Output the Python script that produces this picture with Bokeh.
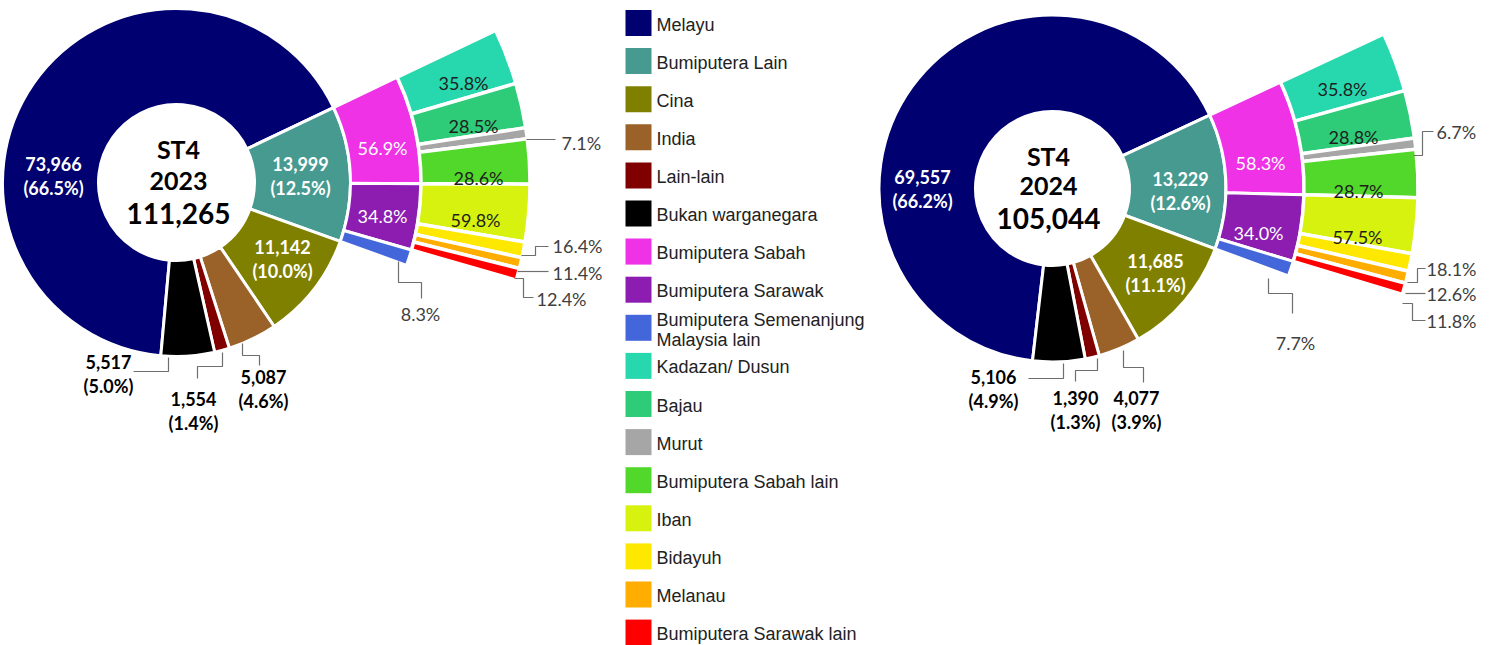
from bokeh.plotting import figure
from bokeh.models import Range1d, ColumnDataSource
from bokeh.embed import file_html
from bokeh.resources import INLINE
from bokeh.core.properties import value
import math

# ---------------- data ----------------
main_categories = ["Melayu", "Bumiputera Lain", "Cina", "India", "Lain-lain", "Bukan warganegara"]
values_2023 = [73966, 13999, 11142, 5087, 1554, 5517]
values_2024 = [69557, 13229, 11685, 4077, 1390, 5106]
pct_2023 = [66.5, 12.5, 10.0, 4.6, 1.4, 5.0]
pct_2024 = [66.2, 12.6, 11.1, 3.9, 1.3, 4.9]
total_2023 = 111265
total_2024 = 105044

bumi_lain_categories = ["Bumiputera Sabah", "Bumiputera Sarawak", "Bumiputera Semenanjung Malaysia lain"]
bumi_lain_2023 = [56.9, 34.8, 8.3]
bumi_lain_2024 = [58.3, 34.0, 7.7]

sabah_categories = ["Kadazan/ Dusun", "Bajau", "Murut", "Bumiputera Sabah lain"]
sabah_2023 = [35.8, 28.5, 7.1, 28.6]
sabah_2024 = [35.8, 28.8, 6.7, 28.7]

sarawak_categories = ["Iban", "Bidayuh", "Melanau", "Bumiputera Sarawak lain"]
sarawak_2023 = [59.8, 16.4, 11.4, 12.4]
sarawak_2024 = [57.5, 18.1, 12.6, 11.8]

colors = {
    "Melayu": "#000070",
    "Bumiputera Lain": "#479A8F",
    "Cina": "#808000",
    "India": "#9A6128",
    "Lain-lain": "#800000",
    "Bukan warganegara": "#000000",
    "Bumiputera Sabah": "#F032E6",
    "Bumiputera Sarawak": "#8C1DB0",
    "Bumiputera Semenanjung Malaysia lain": "#4366DA",
    "Kadazan/ Dusun": "#27D8AF",
    "Bajau": "#2ECB78",
    "Murut": "#A6A6A6",
    "Bumiputera Sabah lain": "#52D82A",
    "Iban": "#D6F20E",
    "Bidayuh": "#FFE800",
    "Melanau": "#FFAD00",
    "Bumiputera Sarawak lain": "#FF0000",
}

# ---------------- layout (styles / positions of annotations) ----------------
LABEL_FONT = "Lato"
LEGEND_FONT = "Liberation Sans"
W, H = 1496, 645

charts = [
    dict(year="2023", cx=176, cy=182, radii=(78, 174, 244.5, 353.5), bumi_top=25.5,
         vals=values_2023, pcts=pct_2023, total=total_2023,
         l2=bumi_lain_2023, sabah=sabah_2023, sarawak=sarawak_2023,
         center=[(2, -34), (2, -2), (2, 31)],
         in1={"Melayu": (-123, -7), "Bumiputera Lain": (124, -7), "Cina": (106, 76)},
         out1={"Bukan warganegara": ((-68, 191), [(-8, 175), (-8, 189), (-43, 189)]),
               "Lain-lain": ((17, 228), [(46, 170), (46, 184), (21, 184), (21, 196)]),
               "India": ((87, 206), [(66, 161), (66, 173), (83, 173), (83, 183)])},
         in2={"Bumiputera Sabah": (206, -35), "Bumiputera Sarawak": (206, 33)},
         out2={"Bumiputera Semenanjung Malaysia lain": ((244, 131), [(222, 79), (222, 100), (245, 100), (245, 116)])},
         in3={"Kadazan/ Dusun": (287, -100), "Bajau": (297, -57), "Bumiputera Sabah lain": (302, -5), "Iban": (299, 37)},
         out3={"Murut": ((385, -40), [(350, -43), (379, -43)]),
               "Bidayuh": ((376, 63), [(345, 73), (359, 73), (359, 64), (372, 64)]),
               "Melanau": ((376, 90), [(341, 89), (372, 89)]),
               "Bumiputera Sarawak lain": ((360, 116), [(338, 96), (347, 96), (347, 115), (357, 115)])}),
    dict(year="2024", cx=1052, cy=188, radii=(77, 173.5, 251.5, 365.5), bumi_top=25.0,
         vals=values_2024, pcts=pct_2024, total=total_2024,
         l2=bumi_lain_2024, sabah=sabah_2024, sarawak=sarawak_2024,
         center=[(-4, -33), (-4, -3), (-4, 30)],
         in1={"Melayu": (-130, 0), "Bumiputera Lain": (128, 2), "Cina": (103, 84)},
         out1={"Bukan warganegara": ((-59, 200), [(11, 175), (11, 190), (-24, 190)]),
               "Lain-lain": ((23, 221), [(45, 170), (45, 182), (23, 182), (23, 193)]),
               "India": ((84, 221), [(71, 162), (71, 179), (91, 179), (91, 194)])},
         in2={"Bumiputera Sabah": (208, -26), "Bumiputera Sarawak": (206, 44)},
         out2={"Bumiputera Semenanjung Malaysia lain": ((243, 154), [(216, 90), (216, 105), (240, 105), (240, 125)])},
         in3={"Kadazan/ Dusun": (290, -100), "Bajau": (301, -52), "Bumiputera Sabah lain": (306, 2), "Iban": (305, 48)},
         out3={"Murut": ((384, -57), [(361, -33), (370, -33), (370, -57), (381, -57)]),
               "Bidayuh": ((374, 80), [(355, 94), (365, 94), (365, 80), (373, 80)]),
               "Melanau": ((374, 105), [(353, 105), (373, 105)]),
               "Bumiputera Sarawak lain": ((374, 132), [(350, 115), (360, 115), (360, 132), (373, 132)])}),
]

p = figure(width=W, height=H, x_range=Range1d(0, W), y_range=Range1d(-H, 0),
           output_backend="svg", toolbar_location=None, min_border=0,
           x_axis_type=None, y_axis_type=None, outline_line_color=None,
           background_fill_color="white", border_fill_color="white")
p.xgrid.visible = False
p.ygrid.visible = False


def split(lo, hi, shares):
    """Split the angle range [lo, hi] clockwise from hi in proportion to shares."""
    tot = float(sum(shares))
    out = []
    a = hi
    for s in shares:
        d = (hi - lo) * s / tot
        out.append((a - d, a))
        a -= d
    return out


def add_ring(cx, cy, rin, rout, names, segs, lw=3):
    src = ColumnDataSource(dict(
        x=[cx] * len(names), y=[-cy] * len(names),
        sa=[math.radians(s[0]) for s in segs], ea=[math.radians(s[1]) for s in segs],
        color=[colors[n] for n in names]))
    p.annular_wedge(x="x", y="y", inner_radius=rin, outer_radius=rout,
                    start_angle="sa", end_angle="ea", fill_color="color",
                    line_color="white", line_width=lw, source=src)


def add_text(xs, ys, texts, color, size, bold=False, align="center", font=LABEL_FONT):
    p.text(x=xs, y=ys, text=texts, text_color=color, text_font=value(font),
           text_font_size=size, text_font_style="bold" if bold else "normal",
           text_align=align, text_baseline="middle")


leader_xs, leader_ys = [], []

for c in charts:
    cx, cy = c["cx"], c["cy"]
    r0, r1, r2, r3 = c["radii"]
    vals = c["vals"]
    tot = float(sum(vals))
    start = c["bumi_top"] + 360.0 * vals[0] / tot
    seg1 = split(start - 360.0, start, vals)
    add_ring(cx, cy, r0, r1, main_categories, seg1)

    bl = seg1[1]
    seg2 = split(bl[0], bl[1], c["l2"])
    add_ring(cx, cy, r1, r2, bumi_lain_categories, seg2)

    seg3a = split(seg2[0][0], seg2[0][1], c["sabah"])
    seg3b = split(seg2[1][0], seg2[1][1], c["sarawak"])
    add_ring(cx, cy, r2, r3, sabah_categories + sarawak_categories, seg3a + seg3b, lw=3.5)

    # centre text
    (a1, b1), (a2, b2), (a3, b3) = c["center"]
    add_text([cx + a1, cx + a2], [-(cy + b1), -(cy + b2)], ["ST4", c["year"]], "#000000", "25px", bold=True)
    add_text([cx + a3], [-(cy + b3)], [f"{c['total']:,}"], "#000000", "28px", bold=True)

    # level 1 labels
    xs, ys, ts = [], [], []
    for name, (dx, dy) in c["in1"].items():
        i = main_categories.index(name)
        xs += [cx + dx, cx + dx]
        ys += [-(cy + dy - 12), -(cy + dy + 12)]
        ts += [f"{vals[i]:,}", f"({c['pcts'][i]:.1f}%)"]
    add_text(xs, ys, ts, "#FFFFFF", "18px", bold=True)

    xs, ys, ts = [], [], []
    for name, ((dx, dy), path) in c["out1"].items():
        i = main_categories.index(name)
        xs += [cx + dx, cx + dx]
        ys += [-(cy + dy - 12), -(cy + dy + 12)]
        ts += [f"{vals[i]:,}", f"({c['pcts'][i]:.1f}%)"]
        leader_xs.append([cx + px for px, py in path])
        leader_ys.append([-(cy + py) for px, py in path])
    add_text(xs, ys, ts, "#000000", "18px", bold=True)

    # level 2 labels
    xs, ys, ts = [], [], []
    for name, (dx, dy) in c["in2"].items():
        i = bumi_lain_categories.index(name)
        xs.append(cx + dx); ys.append(-(cy + dy)); ts.append(f"{c['l2'][i]:.1f}%")
    add_text(xs, ys, ts, "#FFFFFF", "18px")
    xs, ys, ts = [], [], []
    for name, ((dx, dy), path) in c["out2"].items():
        i = bumi_lain_categories.index(name)
        xs.append(cx + dx); ys.append(-(cy + dy)); ts.append(f"{c['l2'][i]:.1f}%")
        leader_xs.append([cx + px for px, py in path])
        leader_ys.append([-(cy + py) for px, py in path])
    add_text(xs, ys, ts, "#404040", "18px")

    # level 3 labels
    l3_names = sabah_categories + sarawak_categories
    l3_vals = c["sabah"] + c["sarawak"]
    xs, ys, ts = [], [], []
    for name, (dx, dy) in c["in3"].items():
        i = l3_names.index(name)
        xs.append(cx + dx); ys.append(-(cy + dy)); ts.append(f"{l3_vals[i]:.1f}%")
    add_text(xs, ys, ts, "#1E1E1E", "18px")
    xs, ys, ts = [], [], []
    for name, ((dx, dy), path) in c["out3"].items():
        i = l3_names.index(name)
        xs.append(cx + dx); ys.append(-(cy + dy)); ts.append(f"{l3_vals[i]:.1f}%")
        leader_xs.append([cx + px for px, py in path])
        leader_ys.append([-(cy + py) for px, py in path])
    add_text(xs, ys, ts, "#404040", "18px", align="left")

p.multi_line(xs=leader_xs, ys=leader_ys, line_color="#6E6E6E", line_width=1.2)

# ---------------- legend ----------------
legend_names = main_categories + bumi_lain_categories + sabah_categories + sarawak_categories
leg_x, leg_y0, leg_step = 638, 22.5, 38.1
sq_y = [-(leg_y0 + i * leg_step) for i in range(len(legend_names))]
p.rect(x=[leg_x] * len(legend_names), y=sq_y, width=26, height=26,
       fill_color=[colors[n] for n in legend_names], line_color=None)
txt, tx, ty = [], [], []
for i, n in enumerate(legend_names):
    yc = leg_y0 + i * leg_step
    if n == "Bumiputera Semenanjung Malaysia lain":
        txt += ["Bumiputera Semenanjung", "Malaysia lain"]
        tx += [leg_x + 18, leg_x + 18]
        ty += [-(yc - 8), -(yc + 12)]
    else:
        txt.append(n); tx.append(leg_x + 18); ty.append(-(yc + 1.5))
add_text(tx, ty, txt, "#222222", "18px", align="left", font=LEGEND_FONT)

open("out.html", "w").write(file_html(p, INLINE))
